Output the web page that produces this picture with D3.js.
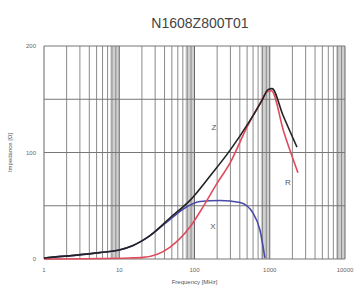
<!DOCTYPE html>
<html>
<head>
<meta charset="utf-8">
<script src="https://cdn.jsdelivr.net/npm/d3@7/dist/d3.min.js"></script>
<style>
  body { margin: 0; background: #fff; }
  text { font-family: "Liberation Sans", Arial, sans-serif; }
</style>
</head>
<body>
<div id="chart"></div>
<script>
// Datos (frecuencia en MHz, impedancia en ohmios)
const title = 'N1608Z800T01';
const xTicks = [1, 10, 100, 1000, 10000];
const yTicks = [0, 100, 200];
const yGrid = [0, 50, 100, 150, 200];

const zFreq = [1, 5.5, 10, 15, 20, 25.6, 47, 87, 161, 296, 545, 790, 948, 1070, 1500, 2300];
const zVal  = [1, 6, 8.5, 12.5, 17, 22, 38.5, 55, 78, 102, 130, 149, 159, 160, 135, 105];

const rFreq = [1, 14, 20.6, 47, 87, 130, 199, 296, 500, 742, 922, 1050, 1540, 2370];
const rVal  = [0, 1, 1.5, 11, 30, 49, 71, 90, 124, 146, 157, 158, 119, 81];

const xFreq = [1, 5.5, 10, 15, 20, 25.6, 47, 79, 118, 219, 403, 600, 742, 862];
const xVal  = [1, 6, 8.5, 12.5, 17, 22, 37, 49, 54, 55, 53, 43, 27, 1];

const width = 359, height = 289;
const margin = { top: 46, right: 14, bottom: 30, left: 44 };

const svg = d3.select('#chart').append('svg')
    .attr('width', width)
    .attr('height', height);

const x = d3.scaleLog().domain([1, 10000]).range([margin.left, width - margin.right]);
const y = d3.scaleLinear().domain([0, 200]).range([height - margin.bottom, margin.top]);

// Bandas grises cerca del final de cada década
[1, 10, 100, 1000].forEach(d => {
    svg.append('rect')
        .attr('x', x(d * 7.6))
        .attr('y', y(200))
        .attr('width', x(d * 10) - x(d * 7.6))
        .attr('height', y(0) - y(200))
        .attr('fill', '#cfcfcf');
});

// Rejilla vertical (log)
const minor = [];
[1, 10, 100, 1000].forEach(d => {
    for (let k = 2; k <= 9; k++) minor.push(d * k);
});
svg.append('g').selectAll('line')
    .data(minor)
    .join('line')
    .attr('x1', d => x(d)).attr('x2', d => x(d))
    .attr('y1', y(0)).attr('y2', y(200))
    .attr('stroke', '#8a8a8a')
    .attr('stroke-width', 1);

svg.append('g').selectAll('line')
    .data(xTicks)
    .join('line')
    .attr('x1', d => x(d)).attr('x2', d => x(d))
    .attr('y1', y(0)).attr('y2', y(200))
    .attr('stroke', '#666')
    .attr('stroke-width', 1);

// Rejilla horizontal
svg.append('g').selectAll('line')
    .data(yGrid)
    .join('line')
    .attr('x1', x(1)).attr('x2', x(10000))
    .attr('y1', d => y(d)).attr('y2', d => y(d))
    .attr('stroke', '#777')
    .attr('stroke-width', 1);

// Curvas
const line = d3.line()
    .x(d => x(d[0]))
    .y(d => y(d[1]))
    .curve(d3.curveMonotoneX);

const series = [
    { f: xFreq, v: xVal, color: '#4a4aa8' },
    { f: rFreq, v: rVal, color: '#e04a5a' },
    { f: zFreq, v: zVal, color: '#222' }
];
series.forEach(s => {
    svg.append('path')
        .datum(s.f.map((f, i) => [f, s.v[i]]))
        .attr('d', line)
        .attr('fill', 'none')
        .attr('stroke', s.color)
        .attr('stroke-width', 1.6);
});

// Etiquetas de las curvas
[['Z', 214, 130], ['R', 288, 185], ['X', 213, 229]].forEach(([t, px, py]) => {
    svg.append('text')
        .attr('x', px).attr('y', py)
        .attr('text-anchor', 'middle')
        .attr('font-size', '8px')
        .attr('fill', '#555')
        .text(t);
});

// Ejes
svg.append('g').selectAll('text')
    .data(xTicks)
    .join('text')
    .attr('x', d => x(d))
    .attr('y', height - margin.bottom + 13)
    .attr('text-anchor', 'middle')
    .attr('font-size', '6px')
    .attr('fill', '#666')
    .text(d => d);

svg.append('g').selectAll('text')
    .data(yTicks)
    .join('text')
    .attr('x', margin.left - 8)
    .attr('y', d => y(d) + 2)
    .attr('text-anchor', 'end')
    .attr('font-size', '6px')
    .attr('fill', '#666')
    .text(d => d);

svg.append('text')
    .attr('x', (x(1) + x(10000)) / 2)
    .attr('y', height - 5)
    .attr('text-anchor', 'middle')
    .attr('font-size', '6px')
    .attr('fill', '#555')
    .text('Frequency [MHz]');

svg.append('text')
    .attr('transform', `translate(12,${(y(0) + y(200)) / 2}) rotate(-90)`)
    .attr('text-anchor', 'middle')
    .attr('font-size', '6px')
    .attr('fill', '#555')
    .text('Impedance [Ω]');

// Título
svg.append('text')
    .attr('x', 200)
    .attr('y', 28)
    .attr('text-anchor', 'middle')
    .attr('font-size', '14px')
    .attr('fill', '#444')
    .text(title);
</script>
</body>
</html>
